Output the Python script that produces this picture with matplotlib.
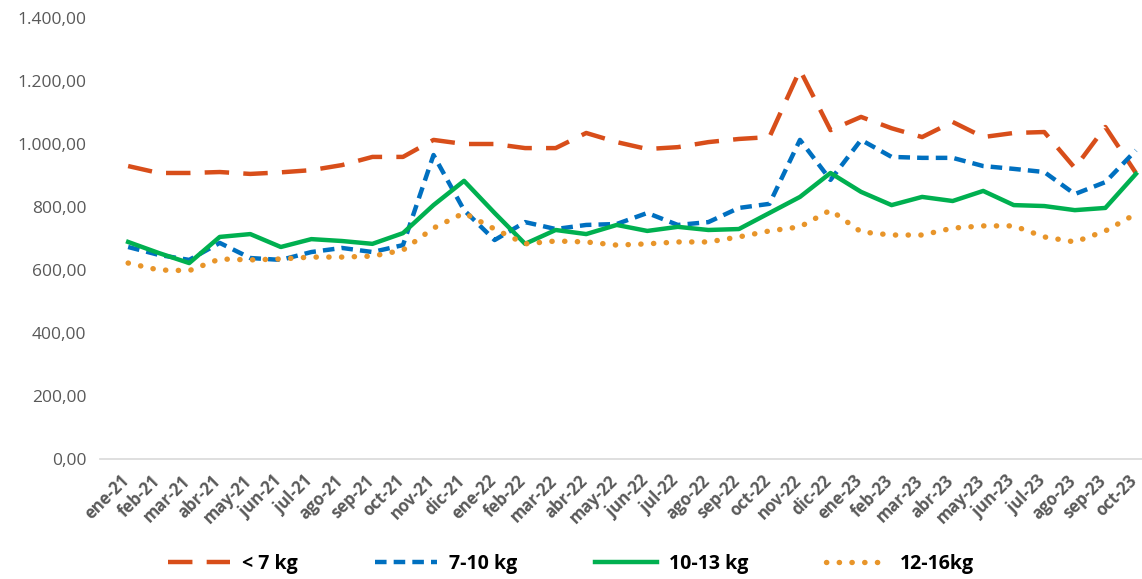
import matplotlib.pyplot as plt
from matplotlib.lines import Line2D
from matplotlib.ticker import FuncFormatter
from matplotlib.transforms import ScaledTranslation

months = ['ene-21', 'feb-21', 'mar-21', 'abr-21', 'may-21', 'jun-21', 'jul-21', 'ago-21', 'sep-21', 'oct-21',
          'nov-21', 'dic-21', 'ene-22', 'feb-22', 'mar-22', 'abr-22', 'may-22', 'jun-22', 'jul-22', 'ago-22',
          'sep-22', 'oct-22', 'nov-22', 'dic-22', 'ene-23', 'feb-23', 'mar-23', 'abr-23', 'may-23', 'jun-23',
          'jul-23', 'ago-23', 'sep-23', 'oct-23']

menos_7 = [930, 908, 908, 911, 905, 910, 917, 933, 959, 959,
           1013, 1000, 1000, 987, 987, 1035, 1006, 984, 990, 1006,
           1016, 1022, 1235, 1044, 1086, 1050, 1022, 1070, 1022, 1035,
           1038, 924, 1054, 908]
k7_10 = [673, 648, 632, 686, 638, 632, 657, 670, 657, 679,
         965, 790, 695, 752, 730, 743, 746, 781, 743, 752,
         797, 810, 1013, 886, 1013, 959, 956, 956, 930, 921,
         911, 841, 879, 980]
k10_13 = [689, 654, 622, 705, 714, 673, 698, 692, 683, 717,
          806, 883, 781, 683, 727, 714, 743, 724, 737, 727,
          730, 781, 832, 908, 848, 806, 832, 819, 851, 806,
          803, 790, 797, 905]
k12_16 = [622, 600, 598, 635, 632, 635, 641, 641, 644, 663,
          733, 781, 730, 683, 692, 689, 679, 683, 689, 689,
          705, 724, 737, 790, 721, 711, 711, 733, 740, 740,
          705, 689, 724, 778]

x = list(range(len(months)))

fig = plt.figure(figsize=(11.42, 5.79), dpi=100)
ax = fig.add_axes([0.0876, 0.2073, 0.9124, 0.7616])

lw = 3.2
ax.plot(x, menos_7, color='#D84E1A', lw=lw, dashes=(5.5, 3.2), label='< 7 kg')
ax.plot(x, k7_10, color='#0070C0', lw=lw, dashes=(2.6, 1.6), label='7-10 kg')
ax.plot(x, k10_13, color='#00B050', lw=lw, label='10-13 kg')
ax.plot(x, k12_16, color='#E8952A', lw=3.9, dashes=(0.05, 2.3), dash_capstyle='round', label='12-16kg')

ax.set_xlim(-0.92, 33.2)
ax.set_ylim(0, 1400)
ax.set_yticks(range(0, 1401, 200))

def fmt(v, pos):
    s = f'{v:,.2f}'
    return s.replace(',', 'X').replace('.', ',').replace('X', '.')

ax.yaxis.set_major_formatter(FuncFormatter(fmt))
ax.set_xticks(x)
ax.set_xticklabels(months, rotation=45, ha='right', rotation_mode='anchor')

for s in ['top', 'right', 'left']:
    ax.spines[s].set_visible(False)
ax.spines['bottom'].set_color('#D9D9D9')
ax.spines['bottom'].set_linewidth(1.2)
ax.tick_params(axis='both', length=0, colors='#595959')
ax.tick_params(axis='y', labelsize=12.5, pad=10)
ax.tick_params(axis='x', labelsize=12, pad=7)
shift = ScaledTranslation(-8 / 100, -3 / 100, fig.dpi_scale_trans)
for t in ax.get_xticklabels():
    t.set_fontweight('bold')
    t.set_family('Open Sans')
    t.set_transform(t.get_transform() + shift)
for t in ax.get_yticklabels():
    t.set_family('Open Sans')

handles = [
    Line2D([], [], color='#D84E1A', lw=lw, dashes=(5.5, 3.2)),
    Line2D([], [], color='#0070C0', lw=lw, dashes=(2.6, 1.6)),
    Line2D([], [], color='#00B050', lw=lw),
    Line2D([], [], color='#E8952A', lw=3.9, dashes=(0.05, 2.3), dash_capstyle='round'),
]
fig.legend(handles, ['< 7 kg', '7-10 kg', '10-13 kg', '12-16kg'], loc='lower center',
           bbox_to_anchor=(0.5, -0.022), ncol=4, frameon=False, handlelength=3.2,
           columnspacing=4, handletextpad=0.6,
           prop={'family': 'Open Sans', 'weight': 'bold', 'size': 14})

fig.savefig('out.png', dpi=100)
